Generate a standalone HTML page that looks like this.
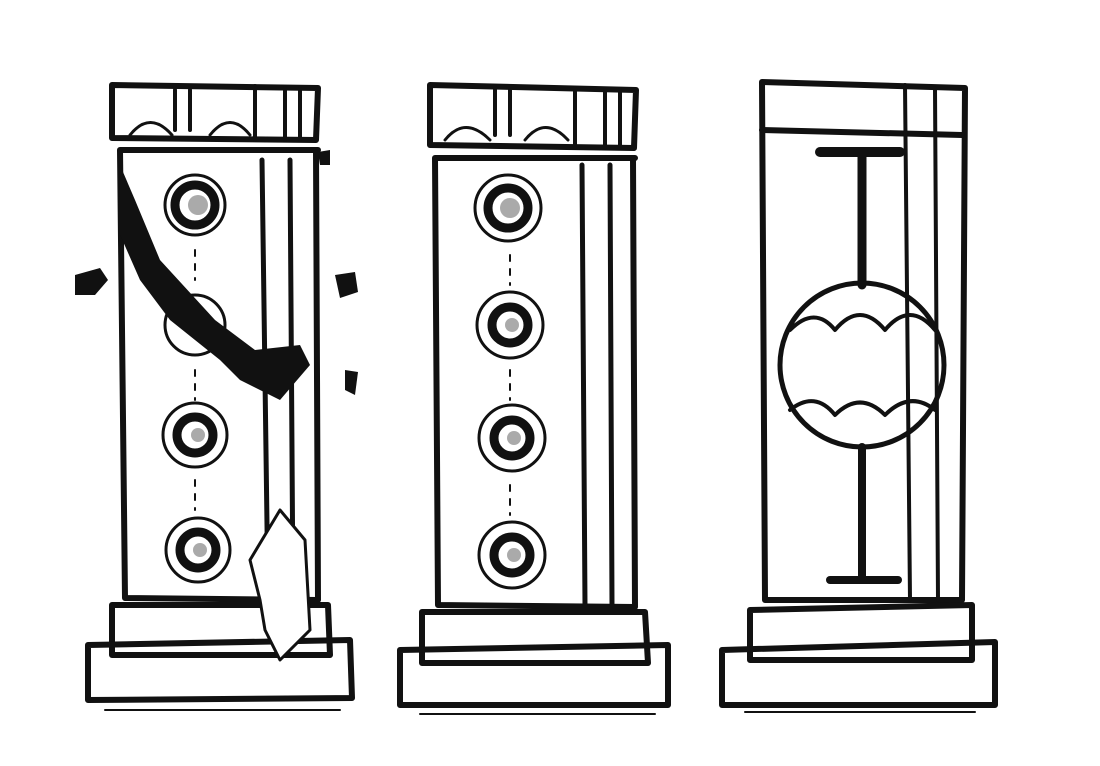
<!DOCTYPE html>
<html><head><style>html,body{margin:0;padding:0;background:#fff}svg{display:block}</style></head>
<body>
<svg width="1100" height="766" viewBox="0 0 1100 766" xmlns="http://www.w3.org/2000/svg">
<rect width="1100" height="766" fill="#fff"/>
<g fill="none" stroke="#111" stroke-width="6" stroke-linejoin="round" stroke-linecap="round">
<!-- Pillar 1 -->
<path d="M112 85 L318 88 L316 140 L112 138 Z"/>
<path d="M255 86 L255 140 M285 88 L285 140 M300 88 L300 140" stroke-width="4"/>
<path d="M175 90 L175 130 M190 90 L190 130" stroke-width="4"/>
<path d="M130 135 Q150 110 172 135 M210 135 Q230 110 250 135" stroke-width="3"/>
<path d="M120 150 L318 150 M120 150 L125 598 L318 600 L316 150"/>
<path d="M262 160 L268 598 M290 160 L293 598" stroke-width="5"/>
<path d="M112 605 L328 605 L330 655 L112 655 Z"/>
<path d="M88 645 L350 640 L352 698 L88 700 Z"/>
<path d="M105 710 L340 710" stroke-width="2"/>
<circle cx="195" cy="205" r="30" stroke-width="3"/>
<circle cx="195" cy="205" r="20" stroke-width="9"/>
<circle cx="195" cy="325" r="30" stroke-width="3"/>
<circle cx="195" cy="435" r="32" stroke-width="3"/>
<circle cx="195" cy="435" r="18" stroke-width="9"/>
<circle cx="198" cy="550" r="32" stroke-width="3"/>
<circle cx="198" cy="550" r="18" stroke-width="9"/>
<path d="M195 250 V280 M195 370 V400 M195 480 V510" stroke-width="2" stroke-dasharray="6 8"/>
<path d="M260 600 L250 560 L280 510 L305 540 L310 630 L280 660 L265 630 Z" stroke-width="3" fill="#fff"/>
<!-- Pillar 2 -->
<path d="M430 85 L636 90 L634 148 L430 145 Z"/>
<path d="M575 88 L575 148 M605 90 L605 148 M620 90 L620 148" stroke-width="4"/>
<path d="M495 90 L495 135 M510 90 L510 135" stroke-width="4"/>
<path d="M445 140 Q465 115 490 140 M525 140 Q545 115 568 140" stroke-width="3"/>
<path d="M435 158 L635 158 M435 158 L438 605 L635 607 L633 158"/>
<path d="M582 165 L585 605 M610 165 L612 605" stroke-width="5"/>
<path d="M422 612 L645 612 L648 663 L422 663 Z"/>
<path d="M400 650 L668 645 L668 705 L400 705 Z"/>
<path d="M420 714 L655 714" stroke-width="2"/>
<circle cx="508" cy="208" r="33" stroke-width="3"/>
<circle cx="508" cy="208" r="20" stroke-width="9"/>
<circle cx="510" cy="325" r="33" stroke-width="3"/>
<circle cx="510" cy="325" r="18" stroke-width="9"/>
<circle cx="512" cy="438" r="33" stroke-width="3"/>
<circle cx="512" cy="438" r="18" stroke-width="9"/>
<circle cx="512" cy="555" r="33" stroke-width="3"/>
<circle cx="512" cy="555" r="18" stroke-width="9"/>
<path d="M510 255 V285 M510 370 V400 M510 485 V515" stroke-width="2" stroke-dasharray="6 8"/>
<!-- Pillar 3 -->
<path d="M762 82 L965 88 L962 600 L765 600 Z"/>
<path d="M762 130 L962 135" stroke-width="6"/>
<path d="M905 85 L910 600 M935 88 L938 600" stroke-width="4"/>
<path d="M750 610 L972 605 L972 660 L750 660 Z"/>
<path d="M722 650 L995 642 L995 705 L722 705 Z"/>
<path d="M745 712 L975 712" stroke-width="2"/>
<path d="M820 152 L900 152" stroke-width="10"/>
<path d="M862 152 L862 285" stroke-width="9"/>
<circle cx="862" cy="365" r="82" stroke-width="5"/>
<path d="M790 330 Q815 305 835 330 Q860 300 885 330 Q910 300 935 330" stroke-width="4"/>
<path d="M790 410 Q815 390 835 415 Q860 390 885 415 Q910 390 935 410" stroke-width="4"/>
<path d="M862 447 L862 578" stroke-width="8"/>
<path d="M830 580 L898 580" stroke-width="8"/>
</g>
<g fill="#aaa">
<circle cx="198" cy="205" r="10"/><circle cx="198" cy="435" r="7"/><circle cx="200" cy="550" r="7"/>
<circle cx="510" cy="208" r="10"/><circle cx="512" cy="325" r="7"/><circle cx="514" cy="438" r="7"/><circle cx="514" cy="555" r="7"/>
</g>
<g fill="#111">
<path d="M120 165 L135 200 L160 260 L215 320 L255 350 L300 345 L310 365 L280 400 L240 380 L220 360 L170 320 L140 280 L118 230 Z"/>
<path d="M75 275 L100 268 L108 280 L95 295 L75 295 Z"/>
<path d="M335 275 L355 272 L358 292 L340 298 Z"/>
<path d="M345 370 L358 372 L355 395 L345 390 Z"/>
<path d="M318 152 L330 150 L330 165 L320 165 Z"/>
</g>
</svg>
</body></html>
